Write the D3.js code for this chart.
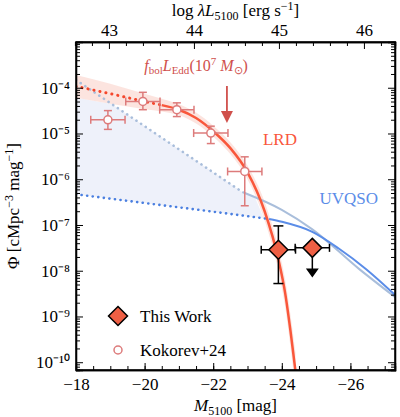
<!DOCTYPE html>
<html><head><meta charset="utf-8">
<script src="https://cdn.jsdelivr.net/npm/d3@7"></script>
<style>body{margin:0;background:#fff}text{font-family:"Liberation Serif",serif}</style>
</head><body><div id="chart-area"></div>
<script>
// Kokorev+24 points: M, log phi, lower, upper
var kokM = [-18.93, -19.95, -20.94, -21.93, -22.92];
var kokPhi = [-4.70, -4.30, -4.48, -4.99, -5.83];
var kokLo = [-4.91, -4.48, -4.63, -5.22, -6.58];
var kokHi = [-4.50, -4.10, -4.33, -4.84, -5.51];
// This work
var twM = [-23.90, -24.89];
var twPhi = [-7.54, -7.50];
var twLo = [-8.28, -8.10];
var twHi = [-7.02, null];
// LRD model curve
var lrdM = [-18, -19, -20, -20.5, -21, -21.5, -22, -22.5, -23, -23.5, -23.9, -24.1, -24.25, -24.4];
var lrdPhi = [-3.97, -4.13, -4.30, -4.38, -4.48, -4.66, -4.95, -5.32, -5.85, -6.7, -7.75, -8.5, -9.3, -10.2];
var lrdBand = [0.25, 0.22, 0.17, 0.14, 0.12, 0.12, 0.12, 0.13, 0.15, 0.2, 0.25, 0.3, 0.35, 0.4];
// UVQSO: faint-end dotted and bright-end solid
var qsoM = [-18, -20, -22, -23.63, -24.0, -24.89, -25.67, -26.45, -27.36];
var qsoPhi = [-6.33, -6.52, -6.71, -6.87, -6.93, -7.15, -7.52, -7.96, -8.57];
// light (alternative) QSO line
var qso2M = [-18, -20, -22.85, -24.0, -24.88, -26.25, -27.36];
var qso2Phi = [-3.83, -4.84, -6.28, -6.67, -7.09, -7.96, -8.61];

var margin = {left:76, right:5, top:42, bottom:47};
var width = 400 - margin.left - margin.right, height = 417 - margin.top - margin.bottom;
var svg = d3.select("#chart-area").append("svg").attr("width",400).attr("height",417);
var g = svg.append("g").attr("transform","translate("+margin.left+","+margin.top+")");
var x = d3.scaleLinear().domain([-18,-27.3]).range([0,width]);
var y = d3.scaleLinear().domain([-10.17,-3]).range([height,0]);
svg.append("defs").append("clipPath").attr("id","c").append("rect").attr("width",width).attr("height",height);
var pg = g.append("g").attr("clip-path","url(#c)");

var lrdAt = function(m){
  for (var i=0;i<lrdM.length-1;i++) if (m<=lrdM[i] && m>=lrdM[i+1]) {
    var t=(m-lrdM[i])/(lrdM[i+1]-lrdM[i]); return lrdPhi[i]+t*(lrdPhi[i+1]-lrdPhi[i]) - (lrdBand[i]+t*(lrdBand[i+1]-lrdBand[i])); }
  return -20;
};
var interp = function(ms, ps, m){
  for (var i=0;i<ms.length-1;i++) if (m<=ms[i] && m>=ms[i+1]) { var t=(m-ms[i])/(ms[i+1]-ms[i]); return ps[i]+t*(ps[i+1]-ps[i]); }
  return ps[ps.length-1];
};
// blue shaded region
var shade = d3.range(-18, -23.64, -0.05).map(function(m){
  return {m:m, lo:interp(qsoM,qsoPhi,m), hi:Math.min(interp(qso2M,qso2Phi,m), lrdAt(m))};
});
pg.append("path").datum(shade).attr("fill","#eef1fa")
  .attr("d", d3.area().x(d=>x(d.m)).y0(d=>y(d.lo)).y1(d=>y(Math.max(d.hi,d.lo))));

// LRD band
var lrd = lrdM.map((m,i)=>({m:m,p:lrdPhi[i],b:lrdBand[i]}));
pg.append("path").datum(lrd).attr("fill","#fbd9d2").attr("opacity",0.7)
  .attr("d", d3.area().curve(d3.curveMonotoneX).x(d=>x(d.m)).y0(d=>y(d.p-d.b)).y1(d=>y(d.p+d.b)));

var line = d3.line().curve(d3.curveMonotoneX).x(d=>x(d.m)).y(d=>y(d.p));
var q2 = qso2M.map((m,i)=>({m:m,p:qso2Phi[i]}));
pg.append("path").datum(q2.filter(d=>d.m>=-23.9)).attr("d",line).attr("fill","none").attr("stroke","#a9bedb").attr("stroke-width",2.6).attr("stroke-dasharray","0.1,5.5").attr("stroke-linecap","round");
pg.append("path").datum(q2.filter(d=>d.m<=-22.85)).attr("d",line).attr("fill","none").attr("stroke","#a9bedb").attr("stroke-width",2);
var q = qsoM.map((m,i)=>({m:m,p:qsoPhi[i]}));
pg.append("path").datum(q.filter(d=>d.m>=-23.63)).attr("d",line).attr("fill","none").attr("stroke","#4a7fe0").attr("stroke-width",2.6).attr("stroke-dasharray","0.1,5.5").attr("stroke-linecap","round");
pg.append("path").datum(q.filter(d=>d.m<=-23.63)).attr("d",line).attr("fill","none").attr("stroke","#5b8de8").attr("stroke-width",2);

pg.append("path").datum(lrd.filter(d=>d.m>=-20.5)).attr("d",line).attr("fill","none").attr("stroke","#f5472c").attr("stroke-width",3).attr("stroke-dasharray","0.1,6").attr("stroke-linecap","round");
pg.append("path").datum(lrd.filter(d=>d.m<=-20.5)).attr("d",line).attr("fill","none").attr("stroke","#f9573b").attr("stroke-width",2.5);

// Kokorev points
var kc = "#dd7b7b";
kokM.forEach(function(m,i){
  var gg = pg.append("g").attr("stroke",kc).attr("stroke-width",1.5);
  gg.append("line").attr("x1",x(m-0.5)).attr("x2",x(m+0.5)).attr("y1",y(kokPhi[i])).attr("y2",y(kokPhi[i]));
  gg.append("line").attr("x1",x(m)).attr("x2",x(m)).attr("y1",y(kokLo[i])).attr("y2",y(kokHi[i]));
  [kokLo[i],kokHi[i]].forEach(v=>gg.append("line").attr("x1",x(m)-4).attr("x2",x(m)+4).attr("y1",y(v)).attr("y2",y(v)));
  [m-0.5,m+0.5].forEach(v=>gg.append("line").attr("x1",x(v)).attr("x2",x(v)).attr("y1",y(kokPhi[i])-4).attr("y2",y(kokPhi[i])+4));
  gg.append("circle").attr("cx",x(m)).attr("cy",y(kokPhi[i])).attr("r",4).attr("fill","#fff");
});
// This Work
twM.forEach(function(m,i){
  var gg = pg.append("g").attr("stroke","#000").attr("stroke-width",1.5);
  gg.append("line").attr("x1",x(m-0.5)).attr("x2",x(m+0.5)).attr("y1",y(twPhi[i])).attr("y2",y(twPhi[i]));
  [m-0.5,m+0.5].forEach(v=>gg.append("line").attr("x1",x(v)).attr("x2",x(v)).attr("y1",y(twPhi[i])-4).attr("y2",y(twPhi[i])+4));
  if (twHi[i]!==null) {
    gg.append("line").attr("x1",x(m)).attr("x2",x(m)).attr("y1",y(twLo[i])).attr("y2",y(twHi[i]));
    [twLo[i],twHi[i]].forEach(v=>gg.append("line").attr("x1",x(m)-5).attr("x2",x(m)+5).attr("y1",y(v)).attr("y2",y(v)));
  } else {
    gg.append("line").attr("x1",x(m)).attr("x2",x(m)).attr("y1",y(twPhi[i])).attr("y2",y(twLo[i])-5);
    gg.append("path").attr("d","M"+(x(m)-5)+","+(y(twLo[i])-6)+"L"+(x(m)+5)+","+(y(twLo[i])-6)+"L"+x(m)+","+(y(twLo[i])+1)+"Z").attr("fill","#000");
  }
  gg.append("path").attr("d",d3.symbol(d3.symbolDiamond2,230)()).attr("transform","translate("+x(m)+","+y(twPhi[i])+")").attr("fill","#ee5f44");
});

// annotation arrow
var ac="#d0504c";
g.append("line").attr("x1",x(-22.4)).attr("x2",x(-22.4)).attr("y1",y(-3.96)).attr("y2",y(-4.55)).attr("stroke",ac).attr("stroke-width",1.8);
g.append("path").attr("d","M"+(x(-22.4)-6)+","+(y(-4.55)-2)+"L"+(x(-22.4)+6)+","+(y(-4.55)-2)+"L"+x(-22.4)+","+(y(-4.55)+10)+"Z").attr("fill",ac);
var ann = g.append("text").attr("x",x(-21.5)).attr("y",y(-3.64)).attr("text-anchor","middle").attr("fill",ac).attr("font-size",16);
ann.append("tspan").attr("font-style","italic").text("f");
ann.append("tspan").attr("font-size",11).attr("dy",3).text("bol");
ann.append("tspan").attr("font-style","italic").attr("dy",-3).text("L");
ann.append("tspan").attr("font-size",11).attr("dy",3).text("Edd");
ann.append("tspan").attr("dy",-3).text("(10");
ann.append("tspan").attr("font-size",11).attr("dy",-6).text("7");
ann.append("tspan").attr("font-style","italic").attr("dy",6).text(" M");
ann.append("tspan").attr("font-size",11).attr("dy",3).text("⊙");
ann.append("tspan").attr("dy",-3).text(")");
g.append("text").attr("x",x(-23.45)).attr("y",y(-5.25)).attr("fill","#f9573b").attr("font-size",17).text("LRD");
g.append("text").attr("x",x(-25.1)).attr("y",y(-6.55)).attr("fill","#5b8de8").attr("font-size",17).text("UVQSO");

// legend
var lg = g.append("g");
lg.append("path").attr("d",d3.symbol(d3.symbolDiamond2,230)()).attr("transform","translate(42,274)").attr("fill","#ee5f44").attr("stroke","#000").attr("stroke-width",1.5);
lg.append("text").attr("x",64).attr("y",280).attr("font-size",17).text("This Work");
lg.append("circle").attr("cx",42).attr("cy",308).attr("r",4).attr("fill","#fff").attr("stroke",kc).attr("stroke-width",1.5);
lg.append("text").attr("x",64).attr("y",314).attr("font-size",17).text("Kokorev+24");

// axes
var supNum = n => String(n).replace("-","−").split("").map(c=>({"0":"⁰","1":"¹","2":"²","3":"³","4":"⁴","5":"⁵","6":"⁶","7":"⁷","8":"⁸","9":"⁹","−":"⁻"}[c])).join("");
var yMaj = [-10,-9,-8,-7,-6,-5,-4];
var yMin = []; d3.range(-11,-3).forEach(function(d){ for (var k=2;k<10;k++){ var v=d+Math.log10(k); if (v>=-10.17 && v<=-3) yMin.push(v);} });
var xMin = d3.range(-18,-27.3,-0.5);
g.append("g").attr("transform","translate(0,"+height+")").call(d3.axisBottom(x).tickValues([-18,-20,-22,-24,-26]).tickSize(-7).tickPadding(8).tickFormat(d=>"−"+(-d)));
g.append("g").attr("transform","translate(0,"+height+")").call(d3.axisBottom(x).tickValues(xMin).tickSize(-4).tickFormat(""));
g.append("g").call(d3.axisLeft(y).tickValues(yMaj).tickSize(-7).tickPadding(6).tickFormat(d=>"10"+supNum(d)));
g.append("g").call(d3.axisLeft(y).tickValues(yMin).tickSize(-4).tickFormat(""));
g.append("g").attr("transform","translate("+width+",0)").call(d3.axisRight(y).tickValues(yMaj).tickSize(-7).tickFormat(""));
g.append("g").attr("transform","translate("+width+",0)").call(d3.axisRight(y).tickValues(yMin).tickSize(-4).tickFormat(""));
// top axis: log lambda L
var lx = d3.scaleLinear().domain([43-(18.96-18)/2.478, 43+(27.3-18.96)/2.478]).range([0,width]);
g.append("g").call(d3.axisTop(lx).tickValues([43,44,45,46]).tickSize(-7).tickPadding(6).tickFormat(d3.format("d")));
g.append("g").call(d3.axisTop(lx).tickValues(d3.range(42.6,46.4,0.2).filter(v=>Math.abs(v-Math.round(v))>0.01)).tickSize(-4).tickFormat(""));
svg.selectAll(".domain").attr("stroke","#000").attr("stroke-width",1.3);
svg.selectAll(".tick line").attr("stroke","#000");
svg.selectAll(".tick text").attr("font-size",17).attr("font-family","Liberation Serif").attr("fill","#000");
g.append("rect").attr("width",width).attr("height",height).attr("fill","none").attr("stroke","#000").attr("stroke-width",1.5);

// axis titles
var xt = svg.append("text").attr("x",margin.left+width/2).attr("y",411).attr("text-anchor","middle").attr("font-size",17);
xt.append("tspan").attr("font-style","italic").text("M");
xt.append("tspan").attr("font-size",12).attr("dy",4).text("5100");
xt.append("tspan").attr("dy",-4).text(" [mag]");
var tt = svg.append("text").attr("x",margin.left+width/2).attr("y",16).attr("text-anchor","middle").attr("font-size",17);
tt.append("tspan").text("log ");
tt.append("tspan").attr("font-style","italic").text("λL");
tt.append("tspan").attr("font-size",12).attr("dy",4).text("5100");
tt.append("tspan").attr("dy",-4).text(" [erg s");
tt.append("tspan").attr("font-size",12).attr("dy",-6).text("−1");
tt.append("tspan").attr("dy",6).text("]");
var yt = svg.append("text").attr("transform","translate(19,"+(margin.top+height/2)+") rotate(-90)").attr("text-anchor","middle").attr("font-size",17);
yt.append("tspan").text("Φ [cMpc");
yt.append("tspan").attr("font-size",12).attr("dy",-6).text("−3");
yt.append("tspan").attr("dy",6).text(" mag");
yt.append("tspan").attr("font-size",12).attr("dy",-6).text("−1");
yt.append("tspan").attr("dy",6).text("]");
</script></body></html>
